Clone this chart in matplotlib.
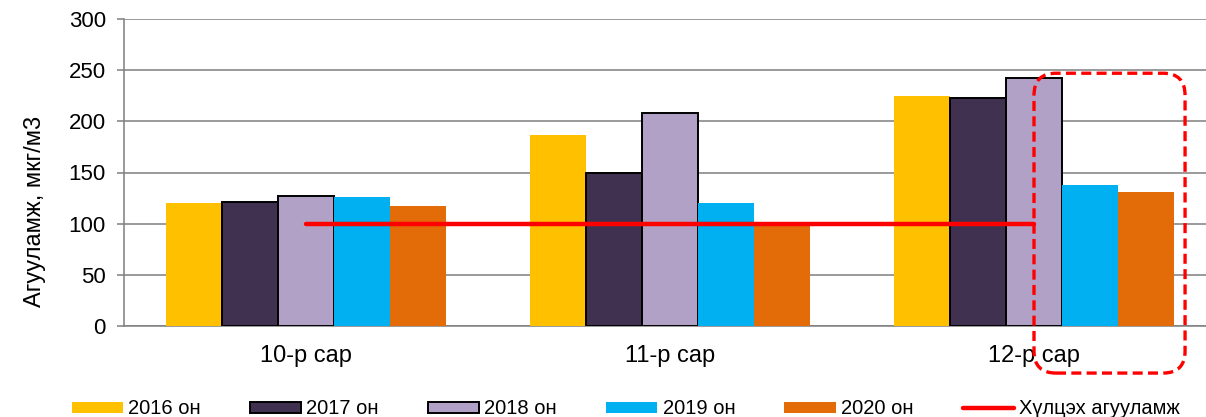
import numpy as np
import matplotlib
matplotlib.use("Agg")
import matplotlib.pyplot as plt
from matplotlib.patches import FancyBboxPatch

plt.rcParams['font.family'] = ['Liberation Sans', 'DejaVu Sans']

months = ["10-р сар", "11-р сар", "12-р сар"]
years = ["2016 он", "2017 он", "2018 он", "2019 он", "2020 он"]
v2016 = [120, 187, 225]
v2017 = [121, 150, 223]
v2018 = [127, 208, 242]
v2019 = [126, 120, 138]
v2020 = [117, 101, 131]
limit = [100, 100, 100]
limit_label = "Хүлцэх агууламж"

colors = ["#FFC000", "#403151", "#B2A1C7", "#00B0F0", "#E36C09"]
edged = [False, True, True, False, False]

W, H = 1206, 417
fig = plt.figure(figsize=(W / 100, H / 100), dpi=100)
ax = fig.add_axes([124 / W, 91 / H, 1 - 124 / W, 307 / H])

x = np.arange(len(months))
bw = 0.154
series = [v2016, v2017, v2018, v2019, v2020]
handles = []
for i, vals in enumerate(series):
    off = (i - 2) * bw
    b = ax.bar(x + off, vals, bw, color=colors[i], zorder=3,
               edgecolor="black" if edged[i] else colors[i],
               linewidth=1.4 if edged[i] else 0, label=years[i])
    handles.append(b)

ln, = ax.plot(x, limit, color="#FF0000", lw=3.2, solid_capstyle="round",
              zorder=4, label=limit_label)
handles.append(ln)

ax.set_xlim(-0.5, (W - 124) / 364 - 0.5)
ax.set_ylim(0, 300)
ax.set_yticks(np.arange(0, 301, 50))
ax.yaxis.grid(True, color="#7F7F7F", lw=1.1, zorder=0)
ax.set_axisbelow(True)
for s in ["top", "right"]:
    ax.spines[s].set_visible(False)
ax.spines["left"].set_color("#7F7F7F")
ax.spines["bottom"].set_color("#7F7F7F")
ax.spines["left"].set_linewidth(1.1)
ax.spines["bottom"].set_linewidth(1.1)
ax.tick_params(axis="y", length=5, width=1.1, color="#7F7F7F", pad=8,
               labelsize=16)
ax.set_xticks(x)
ax.set_xticklabels(months)
ax.tick_params(axis="x", length=0, pad=14, labelsize=17)

fig.text(35 / W, 1 - 211 / H, "Агууламж, мкг/м3", rotation=90,
         ha="center", va="center", fontsize=17)

# highlight box around the last two December bars
px_x = 364.0
px_y = 307 / 300
x0 = x[2]
x1 = x[2] + 2.5 * bw + 0.03
y0, y1 = -46, 247
r = 22
box = FancyBboxPatch((x0, y0), x1 - x0, y1 - y0,
                     boxstyle="round,pad=0,rounding_size=%f" % (r / px_x),
                     mutation_aspect=px_x / px_y,
                     fill=False, edgecolor="#FF0000", lw=2.4,
                     linestyle=(0, (3, 1.6)), clip_on=False, zorder=5)
ax.add_patch(box)

fig.legend(handles=handles, loc="center left", ncol=6,
           bbox_to_anchor=(72 / W, 1 - 409 / H), frameon=False,
           fontsize=14.5, handlelength=2.54, handleheight=0.5,
           handletextpad=0.25, columnspacing=2.45, borderaxespad=0,
           borderpad=0)

fig.savefig("out.png", dpi=100)
